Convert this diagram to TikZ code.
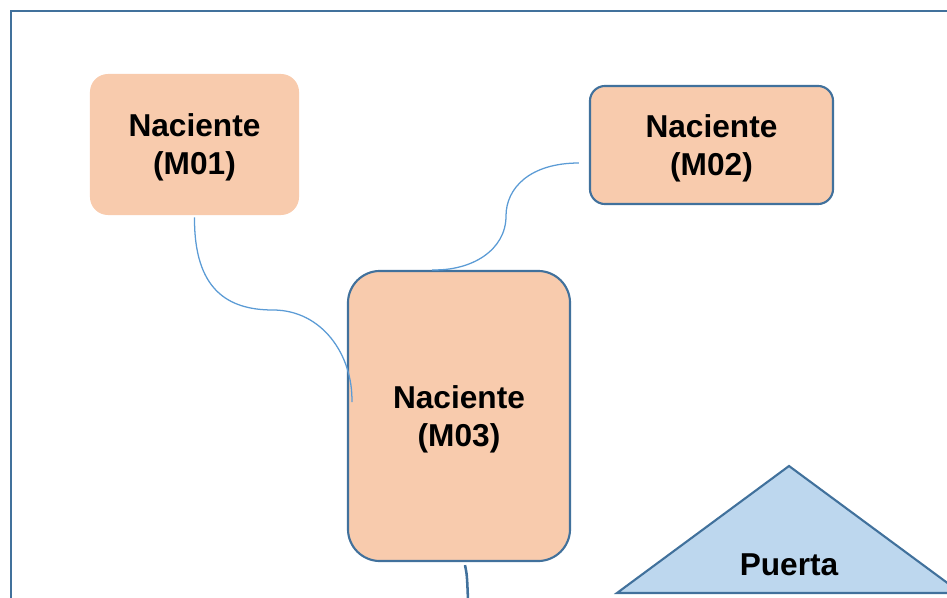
\documentclass[tikz,border=0pt]{standalone}
\usepackage{fontspec}
\setmainfont{Liberation Sans}
\usepackage{xcolor}
\usetikzlibrary{calc}
\definecolor{peach}{HTML}{F8CBAD}
\definecolor{edgeblue}{HTML}{41719C}
\definecolor{linkblue}{HTML}{5B9BD5}
\definecolor{doorblue}{HTML}{BDD7EE}

\begin{document}
\begin{tikzpicture}[x=0.025cm,y=-0.025cm]
    \tikzstyle{rec} = [rectangle, fill=peach, align=center, inner sep=0pt, text depth=0pt, font=\fontsize{22.5}{27}\selectfont\bfseries]
    \tikzstyle{link} = [draw=linkblue, line width=0.9pt]
    \useasboundingbox (0,0) rectangle (947,598);
    \clip (0,0) rectangle (947,598);
    \draw [edgeblue, line width=2pt] (11,11) rectangle (990,650);
    \node [rec, rounded corners=0.45cm, minimum width=5.225cm, minimum height=3.525cm] (m01) at (194.5,144.5) {Naciente\\(M01)};
    \node [rec, draw=edgeblue, line width=1.5pt, rounded corners=0.375cm, minimum width=6.075cm, minimum height=2.95cm] (m02) at (711.5,145) {Naciente\\(M02)};
    \node [rec, draw=edgeblue, line width=1.5pt, rounded corners=0.8cm, minimum width=5.55cm, minimum height=7.25cm] (m03) at (459,416) {Naciente\\(M03)};
    % puerta
    \draw [edgeblue, fill=doorblue, line width=1.5pt] (789,466) -- (961,593) -- (617,593) -- cycle;
    \node [font=\fontsize{22.5}{27}\selectfont\bfseries] (puerta) at (789,565) {Puerta};
    % links
    \draw [link] ($(m01.south)+(0,2)$) .. controls (194,290) and (228,310) .. (273,310)
        .. controls (322,310) and (353,355) .. ($(m03.west)+(5,-14)$);
    \draw [link] ($(m02.west)+(-10,18)$) .. controls (530,163) and (506,188) .. (506,216)
        .. controls (506,250) and (472,271) .. ($(m03.north)+(-27,0)$);
    \coordinate (cable) at (468,600);
    \draw [edgeblue, line width=1.8pt] ($(m03.south)+(6,3)$) .. controls (467,575) .. (cable);
\end{tikzpicture}
\end{document}
